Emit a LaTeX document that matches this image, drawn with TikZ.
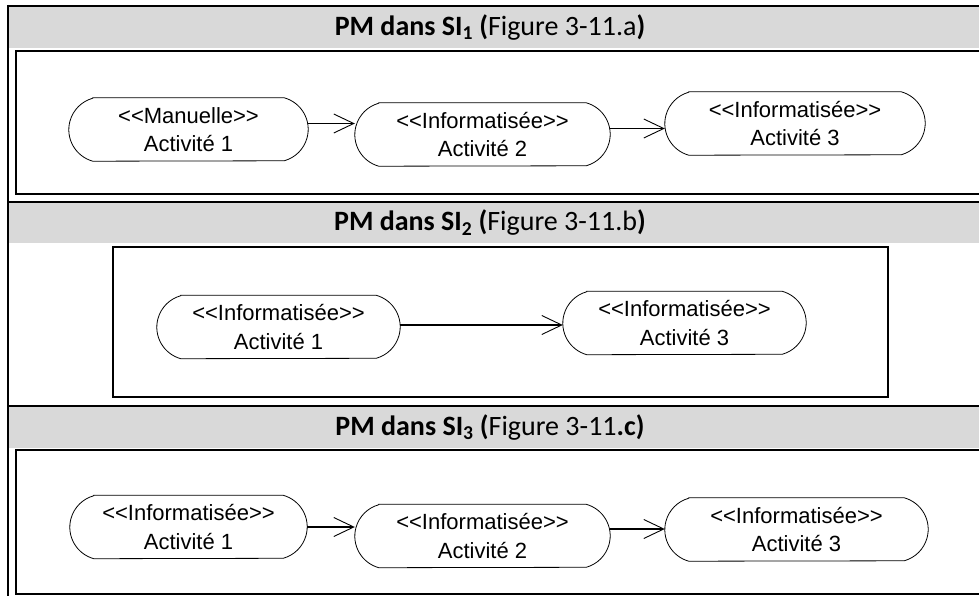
\documentclass[tikz,border=0pt]{standalone}
\usepackage{fontspec}
\usetikzlibrary{arrows.meta}
\newfontfamily\hdrfont{Carlito}
\newfontfamily\actfont{Liberation Sans}[Ligatures=TeXOff]
\definecolor{hdrgray}{HTML}{D9D9D9}
\tikzset{
  x=1pt, y=1pt,
  rule/.style={draw=black, line width=2pt},
  framebox/.style={draw=black, line width=2.2pt},
  band/.style={fill=hdrgray, draw=none},
  hdr/.style={font=\hdrfont\fontsize{28}{32}\selectfont, inner sep=0pt},
  act/.style={font=\actfont\fontsize{22}{28.5}\selectfont, align=center, inner sep=0pt, minimum height=63pt},
  actline/.style={draw=black, line width=0.8pt},
  flow/.style={line width=1.4pt, -{Straight Barb[length=20pt,width=19pt,line width=0.9pt]}},
}
\newcommand{\actoutline}[1]{%
  \draw[actline] ([xshift=24pt]#1.north west) -- ([xshift=-24pt]#1.north east)
    arc[start angle=74.6,end angle=-74.6,radius=32.67pt]
    -- ([xshift=24pt]#1.south west)
    arc[start angle=254.6,end angle=105.4,radius=32.67pt] -- cycle;}
\begin{document}
\begin{tikzpicture}
\useasboundingbox (0,0) rectangle (979,-596);
% header bands
\fill[band] (9,-7) rectangle (979,-48);
\fill[band] (9,-203) rectangle (979,-243);
\fill[band] (9,-407) rectangle (979,-448);
% table rules
\draw[rule] (8,-6) -- (985,-6);
\draw[rule] (8,-5) -- (8,-600);
\draw[rule] (8,-202) -- (985,-202);
\draw[rule] (8,-406) -- (985,-406);
% inner frames
\draw[framebox] (990,-51) -- (16,-51) -- (16,-194) -- (990,-194);
\draw[framebox] (113,-247) rectangle (888,-397);
\draw[framebox] (990,-450) -- (16,-450) -- (16,-594) -- (990,-594);
% headers
\node[hdr] (h1) at (490,-27.5) {\textbf{PM dans SI\textsubscript{1} (}Figure 3-11.a\textbf{)}};
\node[hdr] (h2) at (490,-223) {\textbf{PM dans SI\textsubscript{2} (}Figure 3-11.b\textbf{)}};
\node[hdr] (h3) at (490,-427.5) {\textbf{PM dans SI\textsubscript{3} (}Figure 3-11\textbf{.c)}};
% row 1
\node[act, minimum width=239pt] (A1) at (188.5,-129.5) {<<Manuelle>>\\Activité 1};
\node[act, minimum width=255pt] (A2) at (482.5,-134.5) {<<Informatisée>>\\Activité 2};
\node[act, minimum width=260pt] (A3) at (795,-123.5) {<<Informatisée>>\\Activité 3};
\actoutline{A1}\actoutline{A2}\actoutline{A3}
\draw[flow] ([yshift=6pt]A1.east) -- ([yshift=6pt]A1.east -| A2.west);
\draw[flow] ([yshift=6pt]A2.east) -- ([yshift=6pt]A2.east -| A3.west);
% row 2
\node[act, minimum width=243pt] (B1) at (278.5,-327) {<<Informatisée>>\\Activité 1};
\node[act, minimum width=243pt] (B3) at (684.5,-323) {<<Informatisée>>\\Activité 3};
\actoutline{B1}\actoutline{B3}
\draw[flow] ([yshift=2pt]B1.east) -- ([yshift=2pt]B1.east -| B3.west);
% row 3
\node[act, minimum width=237pt] (C1) at (188.5,-527) {<<Informatisée>>\\Activité 1};
\node[act, minimum width=255pt] (C2) at (482.5,-536) {<<Informatisée>>\\Activité 2};
\node[act, minimum width=263pt] (C3) at (796.5,-529.5) {<<Informatisée>>\\Activité 3};
\actoutline{C1}\actoutline{C2}\actoutline{C3}
\draw[flow] (C1.east) -- (C1.east -| C2.west);
\draw[flow] ([yshift=7pt]C2.east) -- ([yshift=7pt]C2.east -| C3.west);
\end{tikzpicture}
\end{document}
